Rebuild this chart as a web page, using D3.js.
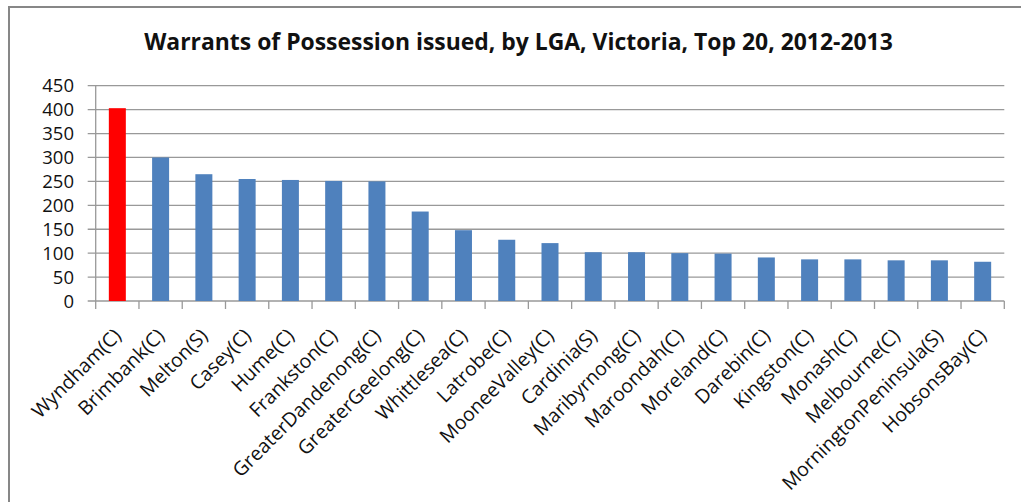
<!DOCTYPE html>
<html><head><meta charset="utf-8">
<script src="https://cdn.jsdelivr.net/npm/d3@7"></script>
<style>body{margin:0;background:#fff;}svg{display:block;}</style>
</head><body>
<svg id="c" width="1021" height="502"></svg>
<script>
const categories = ["Wyndham(C)","Brimbank(C)","Melton(S)","Casey(C)","Hume(C)","Frankston(C)","GreaterDandenong(C)","GreaterGeelong(C)","Whittlesea(C)","Latrobe(C)","MooneeValley(C)","Cardinia(S)","Maribyrnong(C)","Maroondah(C)","Moreland(C)","Darebin(C)","Kingston(C)","Monash(C)","Melbourne(C)","MorningtonPeninsula(S)","HobsonsBay(C)"];
const values = [403,300,265,255,253,251,250,187,148,128,121,102,102,100,99,91,87,87,85,85,82];
const yTicks = [0,50,100,150,200,250,300,350,400,450];
const titleText = "Warrants of Possession issued, by LGA, Victoria, Top 20, 2012-2013";

const svg = d3.select("#c");
const font = "'Open Sans', 'Noto Sans', sans-serif";
// frame
svg.append("rect").attr("x",9).attr("y",7).attr("width",1030).attr("height",520)
  .attr("fill","none").attr("stroke","#878787").attr("stroke-width",2);

const x0 = 95.7, x1 = 1004.3, yTop = 85.7, yBot = 301;
const x = d3.scaleBand().domain(categories).range([x0,x1]).paddingInner(0).paddingOuter(0);
const y = d3.scaleLinear().domain([0,450]).range([yBot,yTop]);
const barW = 17;

// gridlines
svg.append("g").selectAll("line").data(yTicks).join("line")
  .attr("x1",x0-8).attr("x2",x1).attr("y1",d=>y(d)).attr("y2",d=>y(d))
  .attr("stroke","#999").attr("stroke-width",1.3);
// y axis line
svg.append("line").attr("x1",x0).attr("x2",x0).attr("y1",yTop).attr("y2",yBot)
  .attr("stroke","#999").attr("stroke-width",1.3);
// x ticks
const tickPos = categories.map(c=>x(c)).concat([x1]);
svg.append("g").selectAll("line").data(tickPos).join("line")
  .attr("x1",d=>d).attr("x2",d=>d).attr("y1",yBot).attr("y2",yBot+8)
  .attr("stroke","#999").attr("stroke-width",1.3);

// bars
svg.append("g").selectAll("rect").data(values).join("rect")
  .attr("x",(d,i)=>x(categories[i])+x.bandwidth()/2-barW/2)
  .attr("width",barW)
  .attr("y",d=>y(d)).attr("height",d=>yBot-y(d))
  .attr("fill",(d,i)=>i===0?"#ff0000":"#4f81bd");

// y labels
svg.append("g").selectAll("text").data(yTicks).join("text")
  .attr("x",74).attr("y",d=>y(d)).attr("dy","0.36em")
  .attr("text-anchor","end").attr("font-family",font).attr("font-size",18.5)
  .attr("fill","#111").text(d=>d);

// x labels
svg.append("g").selectAll("text").data(categories).join("text")
  .attr("transform",c=>`translate(${x(c)+x.bandwidth()/2+5},${yBot+36}) rotate(-45)`)
  .attr("text-anchor","end").attr("font-family",font).attr("font-size",19.5)
  .attr("fill","#111").text(c=>c);

// title
const t = svg.append("text").attr("x",518.5).attr("y",50).attr("text-anchor","middle")
  .attr("font-family",font).attr("font-weight","bold").attr("font-size",22)
  .attr("fill","#111").text(titleText);
const w = t.node().getComputedTextLength();
t.attr("font-size",22*749/w);
</script>
</body></html>
